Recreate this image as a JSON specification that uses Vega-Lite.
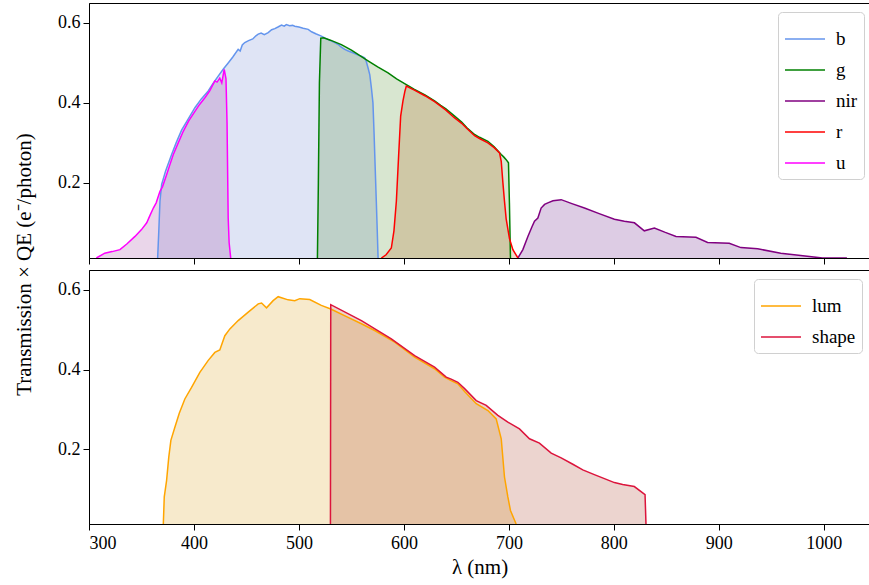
{
  "$schema": "https://vega.github.io/schema/vega-lite/v6.json",
  "padding": {"left": 12, "top": 2, "right": 1, "bottom": 2},
  "config": {
    "font": "Liberation Serif",
    "view": {"stroke": "black", "strokeWidth": 1},
    "axis": {
      "grid": false, "domainColor": "black", "domainWidth": 1, "tickColor": "black", "tickWidth": 1,
      "labelColor": "black", "titleColor": "black", "labelFontSize": 18, "titleFontSize": 21,
      "tickSize": 6, "titleFontWeight": "normal", "labelFont": "Liberation Serif", "titleFont": "Liberation Serif"
    },
    "legend": {
      "labelFont": "Liberation Serif", "labelFontSize": 19, "labelColor": "black",
      "symbolStrokeWidth": 1.5, "labelOffset": 10, "padding": 6, "rowPadding": -12,
      "strokeColor": "#d0d0d0", "cornerRadius": 4, "fillColor": "white"
    }
  },
  "datasets": {
    "filters": [
      {"band":"b","wl":365.4,"t":0.012},{"band":"b","wl":366.5,"t":0.08},{"band":"b","wl":367.6,"t":0.154},{"band":"b","wl":369.2,"t":0.196},
      {"band":"b","wl":373,"t":0.23},{"band":"b","wl":378.7,"t":0.271},{"band":"b","wl":383,"t":0.3},{"band":"b","wl":388.2,"t":0.332},
      {"band":"b","wl":395,"t":0.362},{"band":"b","wl":400.9,"t":0.388},{"band":"b","wl":407,"t":0.41},{"band":"b","wl":413.6,"t":0.43},
      {"band":"b","wl":418,"t":0.448},{"band":"b","wl":423.1,"t":0.467},{"band":"b","wl":428,"t":0.485},{"band":"b","wl":432.6,"t":0.5},
      {"band":"b","wl":437,"t":0.515},{"band":"b","wl":442.1,"t":0.534},{"band":"b","wl":444,"t":0.53},{"band":"b","wl":446,"t":0.545},
      {"band":"b","wl":448.4,"t":0.551},{"band":"b","wl":452,"t":0.556},{"band":"b","wl":456,"t":0.56},{"band":"b","wl":459,"t":0.568},
      {"band":"b","wl":461.2,"t":0.572},{"band":"b","wl":464,"t":0.575},{"band":"b","wl":467,"t":0.571},{"band":"b","wl":470.7,"t":0.576},
      {"band":"b","wl":474,"t":0.583},{"band":"b","wl":477,"t":0.586},{"band":"b","wl":480,"t":0.59},{"band":"b","wl":483.4,"t":0.595},
      {"band":"b","wl":486,"t":0.592},{"band":"b","wl":488,"t":0.596},{"band":"b","wl":491,"t":0.593},{"band":"b","wl":494,"t":0.594},
      {"band":"b","wl":496,"t":0.592},{"band":"b","wl":500,"t":0.59},{"band":"b","wl":504,"t":0.587},{"band":"b","wl":508.8,"t":0.584},
      {"band":"b","wl":512,"t":0.578},{"band":"b","wl":516,"t":0.573},{"band":"b","wl":521.4,"t":0.567},{"band":"b","wl":525,"t":0.562},
      {"band":"b","wl":530,"t":0.556},{"band":"b","wl":534.1,"t":0.551},{"band":"b","wl":538,"t":0.545},{"band":"b","wl":540,"t":0.54},
      {"band":"b","wl":543.6,"t":0.534},{"band":"b","wl":547,"t":0.53},{"band":"b","wl":552,"t":0.525},{"band":"b","wl":557,"t":0.519},
      {"band":"b","wl":560,"t":0.516},{"band":"b","wl":562.6,"t":0.513},{"band":"b","wl":564,"t":0.505},{"band":"b","wl":565.8,"t":0.488},
      {"band":"b","wl":567.5,"t":0.47},{"band":"b","wl":569,"t":0.438},{"band":"b","wl":570.5,"t":0.4},{"band":"b","wl":571.6,"t":0.321},
      {"band":"b","wl":572.6,"t":0.24},{"band":"b","wl":573.7,"t":0.154},{"band":"b","wl":574.6,"t":0.08},{"band":"b","wl":575.4,"t":0.012},

      {"band":"g","wl":517.6,"t":0.012},{"band":"g","wl":518.5,"t":0.2},{"band":"g","wl":519.5,"t":0.45},{"band":"g","wl":520.8,"t":0.562},
      {"band":"g","wl":523.5,"t":0.563},{"band":"g","wl":530,"t":0.557},{"band":"g","wl":540.4,"t":0.546},{"band":"g","wl":550,"t":0.532},
      {"band":"g","wl":557,"t":0.52},{"band":"g","wl":565.8,"t":0.505},{"band":"g","wl":575,"t":0.49},{"band":"g","wl":584.9,"t":0.475},
      {"band":"g","wl":593,"t":0.46},{"band":"g","wl":602.3,"t":0.446},{"band":"g","wl":610,"t":0.434},{"band":"g","wl":620,"t":0.42},
      {"band":"g","wl":629.2,"t":0.405},{"band":"g","wl":635,"t":0.394},{"band":"g","wl":640,"t":0.385},{"band":"g","wl":648.3,"t":0.367},
      {"band":"g","wl":655,"t":0.352},{"band":"g","wl":660,"t":0.338},{"band":"g","wl":667.3,"t":0.321},{"band":"g","wl":672,"t":0.314},
      {"band":"g","wl":680,"t":0.304},{"band":"g","wl":686,"t":0.29},{"band":"g","wl":692.7,"t":0.271},{"band":"g","wl":695,"t":0.265},
      {"band":"g","wl":697.4,"t":0.258},{"band":"g","wl":699.6,"t":0.25},{"band":"g","wl":700.5,"t":0.15},{"band":"g","wl":701.5,"t":0.012},

      {"band":"nir","wl":708.6,"t":0.012},{"band":"nir","wl":713.3,"t":0.033},{"band":"nir","wl":718.1,"t":0.066},{"band":"nir","wl":722,"t":0.09},
      {"band":"nir","wl":724.4,"t":0.104},{"band":"nir","wl":727.6,"t":0.112},{"band":"nir","wl":730.7,"t":0.137},{"band":"nir","wl":734,"t":0.146},
      {"band":"nir","wl":737.1,"t":0.15},{"band":"nir","wl":742,"t":0.155},{"band":"nir","wl":749.8,"t":0.158},{"band":"nir","wl":760,"t":0.148},
      {"band":"nir","wl":772,"t":0.137},{"band":"nir","wl":786,"t":0.123},{"band":"nir","wl":800.5,"t":0.109},{"band":"nir","wl":810,"t":0.104},
      {"band":"nir","wl":819.6,"t":0.1},{"band":"nir","wl":829,"t":0.08},{"band":"nir","wl":838.6,"t":0.087},{"band":"nir","wl":849,"t":0.076},
      {"band":"nir","wl":859.2,"t":0.066},{"band":"nir","wl":878.2,"t":0.064},{"band":"nir","wl":889.3,"t":0.051},{"band":"nir","wl":909.9,"t":0.049},
      {"band":"nir","wl":921,"t":0.038},{"band":"nir","wl":937,"t":0.035},{"band":"nir","wl":959,"t":0.024},{"band":"nir","wl":978,"t":0.018},
      {"band":"nir","wl":998.8,"t":0.012},{"band":"nir","wl":1022,"t":0.012},

      {"band":"r","wl":578.5,"t":0.012},{"band":"r","wl":583,"t":0.02},{"band":"r","wl":588,"t":0.037},{"band":"r","wl":590.5,"t":0.08},
      {"band":"r","wl":592.8,"t":0.154},{"band":"r","wl":595,"t":0.27},{"band":"r","wl":596.9,"t":0.367},{"band":"r","wl":599.1,"t":0.405},
      {"band":"r","wl":601,"t":0.43},{"band":"r","wl":602.3,"t":0.442},{"band":"r","wl":610,"t":0.432},{"band":"r","wl":620,"t":0.418},
      {"band":"r","wl":629.2,"t":0.403},{"band":"r","wl":635,"t":0.392},{"band":"r","wl":640,"t":0.382},{"band":"r","wl":648,"t":0.363},
      {"band":"r","wl":655,"t":0.349},{"band":"r","wl":660,"t":0.336},{"band":"r","wl":667.3,"t":0.318},{"band":"r","wl":672,"t":0.311},
      {"band":"r","wl":680,"t":0.3},{"band":"r","wl":686,"t":0.288},{"band":"r","wl":691.1,"t":0.275},{"band":"r","wl":692.7,"t":0.254},
      {"band":"r","wl":694.3,"t":0.2},{"band":"r","wl":695.8,"t":0.154},{"band":"r","wl":697.4,"t":0.11},{"band":"r","wl":700.6,"t":0.06},
      {"band":"r","wl":703.8,"t":0.033},{"band":"r","wl":708.6,"t":0.012},

      {"band":"u","wl":307,"t":0.012},{"band":"u","wl":315,"t":0.024},{"band":"u","wl":322,"t":0.028},{"band":"u","wl":329.5,"t":0.033},
      {"band":"u","wl":336,"t":0.047},{"band":"u","wl":343.8,"t":0.066},{"band":"u","wl":350,"t":0.083},{"band":"u","wl":355,"t":0.1},
      {"band":"u","wl":358,"t":0.118},{"band":"u","wl":361.3,"t":0.137},{"band":"u","wl":364,"t":0.15},{"band":"u","wl":367.6,"t":0.179},
      {"band":"u","wl":370,"t":0.19},{"band":"u","wl":374,"t":0.221},{"band":"u","wl":377,"t":0.245},{"band":"u","wl":380.3,"t":0.271},
      {"band":"u","wl":385,"t":0.3},{"band":"u","wl":389.8,"t":0.329},{"band":"u","wl":395,"t":0.355},{"band":"u","wl":400.9,"t":0.379},
      {"band":"u","wl":405,"t":0.395},{"band":"u","wl":410.4,"t":0.413},{"band":"u","wl":415,"t":0.43},{"band":"u","wl":419.9,"t":0.455},
      {"band":"u","wl":422,"t":0.452},{"band":"u","wl":424.6,"t":0.462},{"band":"u","wl":426.5,"t":0.45},{"band":"u","wl":428.8,"t":0.484},
      {"band":"u","wl":430.5,"t":0.46},{"band":"u","wl":431.5,"t":0.35},{"band":"u","wl":432.6,"t":0.112},{"band":"u","wl":433.5,"t":0.05},
      {"band":"u","wl":435,"t":0.012}
    ],
    "broad": [
      {"band":"lum","wl":370.8,"t":0.012},{"band":"lum","wl":371.7,"t":0.08},{"band":"lum","wl":373.9,"t":0.121},{"band":"lum","wl":376,"t":0.18},
      {"band":"lum","wl":378,"t":0.222},{"band":"lum","wl":381.8,"t":0.255},{"band":"lum","wl":386,"t":0.29},{"band":"lum","wl":391.3,"t":0.326},
      {"band":"lum","wl":397.7,"t":0.355},{"band":"lum","wl":405.6,"t":0.393},{"band":"lum","wl":413.6,"t":0.423},{"band":"lum","wl":419.9,"t":0.443},
      {"band":"lum","wl":424.6,"t":0.449},{"band":"lum","wl":429.4,"t":0.485},{"band":"lum","wl":434.2,"t":0.502},{"band":"lum","wl":442.1,"t":0.523},
      {"band":"lum","wl":451.7,"t":0.544},{"band":"lum","wl":461.2,"t":0.565},{"band":"lum","wl":464.4,"t":0.567},{"band":"lum","wl":469.1,"t":0.555},
      {"band":"lum","wl":475.4,"t":0.573},{"band":"lum","wl":480.2,"t":0.583},{"band":"lum","wl":489.7,"t":0.575},{"band":"lum","wl":496,"t":0.573},
      {"band":"lum","wl":500.8,"t":0.578},{"band":"lum","wl":510.3,"t":0.576},{"band":"lum","wl":521.3,"t":0.561},{"band":"lum","wl":530.3,"t":0.552},
      {"band":"lum","wl":546.8,"t":0.531},{"band":"lum","wl":559.5,"t":0.515},{"band":"lum","wl":572.2,"t":0.498},{"band":"lum","wl":591.2,"t":0.469},
      {"band":"lum","wl":610.2,"t":0.431},{"band":"lum","wl":629.2,"t":0.402},{"band":"lum","wl":638.7,"t":0.381},{"band":"lum","wl":645,"t":0.372},
      {"band":"lum","wl":651.4,"t":0.364},{"band":"lum","wl":657.8,"t":0.345},{"band":"lum","wl":668.9,"t":0.314},{"band":"lum","wl":680,"t":0.297},
      {"band":"lum","wl":687.9,"t":0.276},{"band":"lum","wl":692.7,"t":0.226},{"band":"lum","wl":695.8,"t":0.13},{"band":"lum","wl":699,"t":0.08},
      {"band":"lum","wl":701.5,"t":0.046},{"band":"lum","wl":706.9,"t":0.012},

      {"band":"shape","wl":530,"t":0.012},{"band":"shape","wl":530.3,"t":0.563},{"band":"shape","wl":559.5,"t":0.523},{"band":"shape","wl":588,"t":0.477},
      {"band":"shape","wl":610.2,"t":0.435},{"band":"shape","wl":629.2,"t":0.406},{"band":"shape","wl":640.3,"t":0.381},{"band":"shape","wl":645,"t":0.376},
      {"band":"shape","wl":651.4,"t":0.368},{"band":"shape","wl":657.8,"t":0.352},{"band":"shape","wl":668.9,"t":0.322},{"band":"shape","wl":678.4,"t":0.31},
      {"band":"shape","wl":689.5,"t":0.285},{"band":"shape","wl":699,"t":0.268},{"band":"shape","wl":710.1,"t":0.251},{"band":"shape","wl":719.6,"t":0.226},
      {"band":"shape","wl":729.1,"t":0.215},{"band":"shape","wl":740.3,"t":0.19},{"band":"shape","wl":749.8,"t":0.178},{"band":"shape","wl":760.9,"t":0.162},
      {"band":"shape","wl":770.4,"t":0.148},{"band":"shape","wl":781.4,"t":0.136},{"band":"shape","wl":791,"t":0.126},{"band":"shape","wl":800.5,"t":0.116},
      {"band":"shape","wl":808.4,"t":0.111},{"band":"shape","wl":819.5,"t":0.106},{"band":"shape","wl":829.7,"t":0.086},{"band":"shape","wl":830.6,"t":0.012}
    ]
  },
  "spacing": 12,
  "bounds": "flush",
  "resolve": {
    "scale": {"fill": "independent", "stroke": "independent"},
    "legend": {"fill": "independent", "stroke": "independent"}
  },
  "vconcat": [
    {
      "width": 781,
      "height": 255,
      "data": {"name": "filters"},
      "encoding": {
        "x": {"field": "wl", "type": "quantitative",
              "scale": {"domain": [300, 1044], "nice": false, "zero": false},
              "axis": {"values": [300, 400, 500, 600, 700, 800, 900, 1000], "labels": false, "title": null}},
        "y": {"field": "t", "type": "quantitative", "stack": null,
              "scale": {"domain": [0.012, 0.65], "nice": false, "zero": false},
              "axis": {"values": [0.2, 0.4, 0.6], "format": ".1f", "labelPadding": 3,
                       "title": "Transmission × QE (e⁻/photon)", "titleX": -65, "titleY": 261,
                       "titleBaseline": "middle", "titleAngle": -90}},
        "fill": {"field": "band", "type": "nominal",
                 "scale": {"domain": ["b", "g", "nir", "r", "u"], "range": ["#5F78CD", "#3C8214", "#550078", "#B05000", "#963296"]},
                 "legend": {"orient": "none", "legendX": 689, "legendY": 9, "title": null, "symbolType": "stroke", "symbolSize": 1600}},
        "stroke": {"field": "band", "type": "nominal",
                   "scale": {"domain": ["b", "g", "nir", "r", "u"], "range": ["#6495ED", "#008000", "#800080", "#FF0000", "#FF00FF"]},
                   "legend": {"orient": "none", "legendX": 689, "legendY": 9, "title": null, "symbolType": "stroke", "symbolSize": 1600}}
      },
      "layer": [
        {"mark": {"type": "area", "fillOpacity": 0.2, "strokeOpacity": 0, "clip": true}},
        {"mark": {"type": "line", "strokeWidth": 1.5, "fillOpacity": 0, "clip": true}}
      ]
    },
    {
      "width": 781,
      "height": 254,
      "data": {"name": "broad"},
      "encoding": {
        "x": {"field": "wl", "type": "quantitative",
              "scale": {"domain": [300, 1044], "nice": false, "zero": false},
              "axis": {"values": [300, 400, 500, 600, 700, 800, 900, 1000], "format": "d", "labelPadding": 4, "title": "λ (nm)", "titlePadding": 4}},
        "y": {"field": "t", "type": "quantitative", "stack": null,
              "scale": {"domain": [0.012, 0.65], "nice": false, "zero": false},
              "axis": {"values": [0.2, 0.4, 0.6], "format": ".1f", "labelPadding": 3, "title": null}},
        "fill": {"field": "band", "type": "nominal",
                 "scale": {"domain": ["lum", "shape"], "range": ["#D79600", "#A0280F"]},
                 "legend": {"orient": "none", "legendX": 665, "legendY": 9, "title": null, "symbolType": "stroke", "symbolSize": 1600}},
        "stroke": {"field": "band", "type": "nominal",
                   "scale": {"domain": ["lum", "shape"], "range": ["#FFA500", "#DC143C"]},
                   "legend": {"orient": "none", "legendX": 665, "legendY": 9, "title": null, "symbolType": "stroke", "symbolSize": 1600}}
      },
      "layer": [
        {"mark": {"type": "area", "fillOpacity": 0.2, "strokeOpacity": 0, "clip": true}},
        {"mark": {"type": "line", "strokeWidth": 1.5, "fillOpacity": 0, "clip": true}}
      ]
    }
  ]
}
